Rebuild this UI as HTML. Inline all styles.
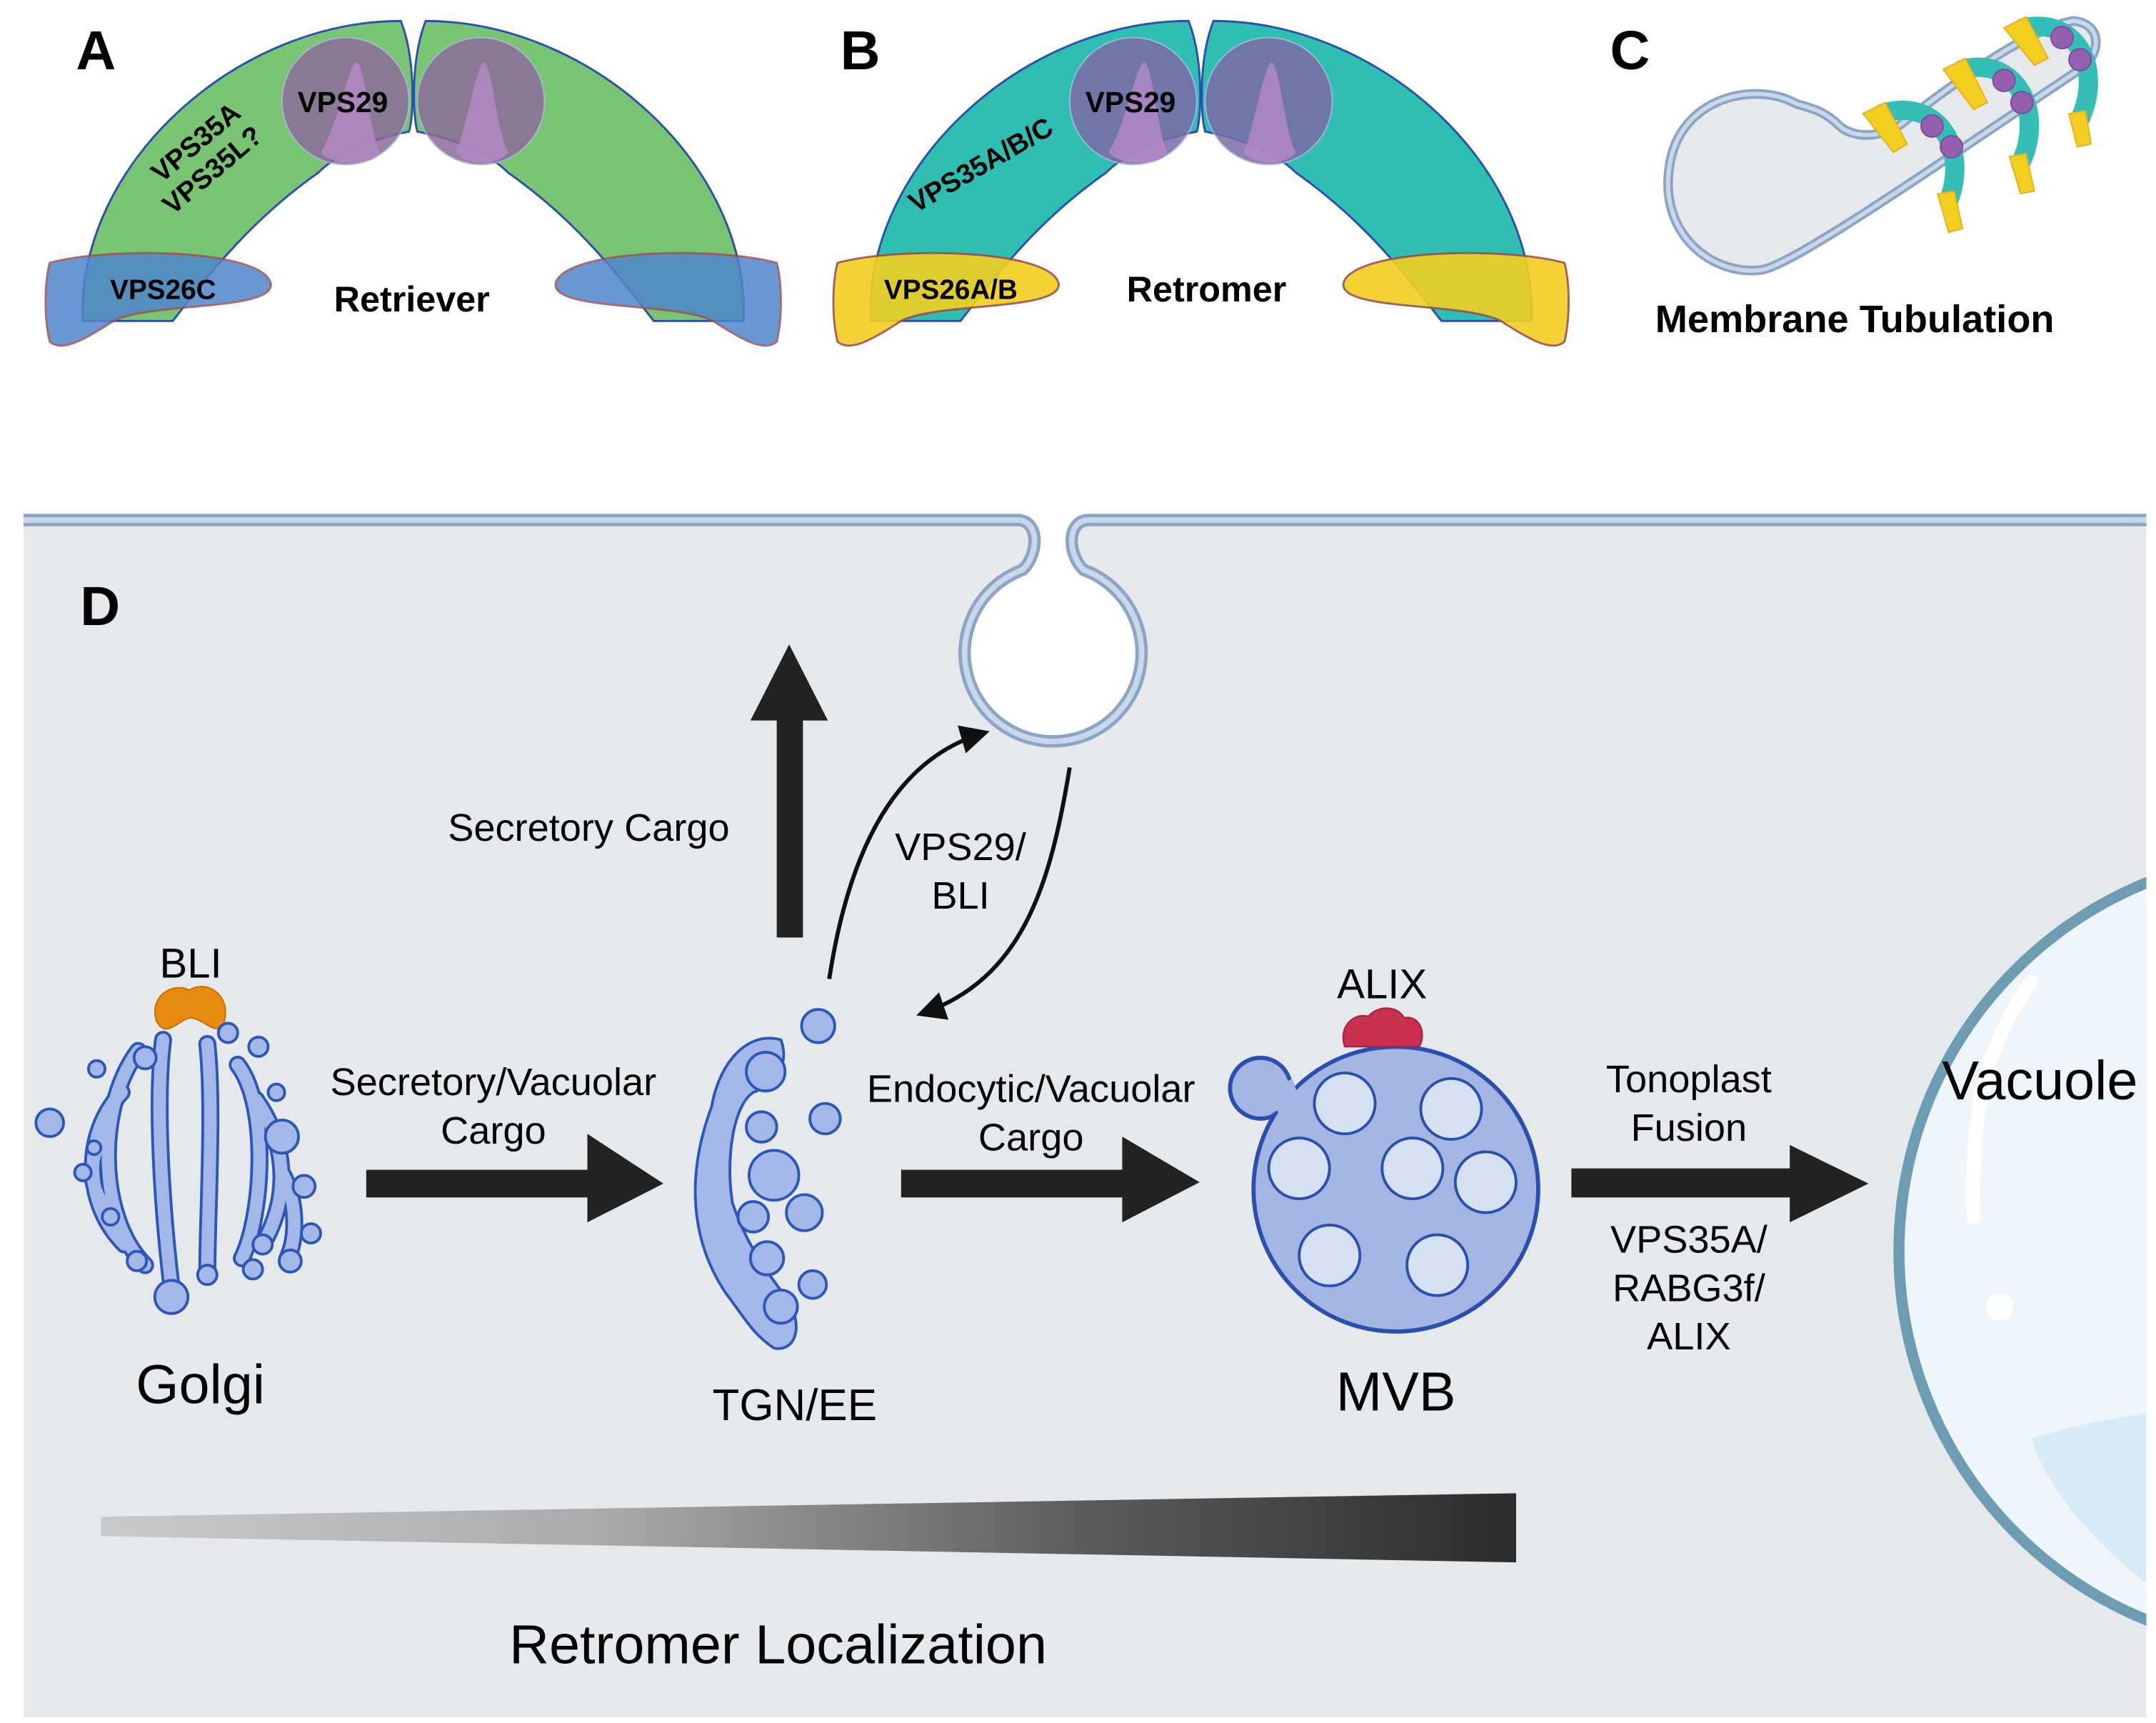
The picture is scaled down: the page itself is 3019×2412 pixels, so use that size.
<!DOCTYPE html>
<html><head><meta charset="utf-8"><style>
html,body{margin:0;padding:0;background:#fff;}
svg{display:block;}
text{font-family:"Liberation Sans",sans-serif;}
</style></head><body>
<svg width="3019" height="2412" viewBox="0 0 1560 1246" xmlns="http://www.w3.org/2000/svg">
<defs>
<linearGradient id="wg" x1="0" x2="1" y1="0" y2="0">
<stop offset="0" stop-color="#c8cacc"/><stop offset="0.35" stop-color="#a9abad"/><stop offset="0.7" stop-color="#5a5b5c"/><stop offset="1" stop-color="#2c2c2c"/>
</linearGradient>
<clipPath id="dclip"><rect x="17" y="372" width="1536" height="870"/></clipPath>
<marker id="ah" viewBox="0 0 10 10" refX="8" refY="5" markerWidth="7" markerHeight="7" orient="auto"><path d="M0,0 L10,5 L0,10 Z" fill="#111"/></marker>
</defs>
<rect width="1560" height="1246" fill="#fff"/>

<!-- Panel A -->
<text x="55" y="50" font-size="40" font-weight="bold">A</text>
<g stroke="#2a4fb0" stroke-width="1.5">
<path d="M60,232 C55,120 170,15 290,15 C300,40 300,80 296,95 C270,100 245,110 230,125 C180,160 150,200 125,232 Z" fill="#79c472"/>
<path d="M538,232 C543,120 428,15 308,15 C298,40 298,80 302,95 C328,100 353,110 368,125 C418,160 448,200 473,232 Z" fill="#79c472"/>
</g>
<circle cx="250" cy="73" r="46" fill="#8c6c98" opacity="0.85" stroke="#a8b8e0"/>
<circle cx="348" cy="73" r="46" fill="#8c6c98" opacity="0.85" stroke="#a8b8e0"/>
<path d="M232,110 C245,90 252,45 258,45 C264,45 268,100 275,110 C270,120 240,120 232,110Z" fill="#b58ac8" opacity="0.8"/>
<path d="M330,110 C338,90 345,45 350,45 C356,45 360,100 368,110 C360,120 338,120 330,110Z" fill="#b58ac8" opacity="0.8"/>
<text x="248" y="81" font-size="21" font-weight="bold" text-anchor="middle">VPS29</text>
<text transform="translate(146,108) rotate(-40)" font-size="20" font-weight="bold" text-anchor="middle">VPS35A</text>
<text transform="translate(158,128) rotate(-40)" font-size="20" font-weight="bold" text-anchor="middle">VPS35L?</text>
<g fill="#4f86cc" opacity="0.85" stroke="#9a5050" stroke-width="1.5">
<path d="M36,190 C80,178 190,180 196,205 C198,225 110,218 82,232 C62,245 45,255 36,247 C32,230 32,205 36,190 Z"/>
<path d="M562,190 C518,178 408,180 402,205 C400,225 488,218 516,232 C536,245 553,255 562,247 C566,230 566,205 562,190 Z"/>
</g>
<text x="118" y="216" font-size="20" font-weight="bold" text-anchor="middle">VPS26C</text>
<text x="298" y="225" font-size="26" font-weight="bold" text-anchor="middle">Retriever</text>

<!-- Panel B -->
<text x="608" y="50" font-size="40" font-weight="bold">B</text>
<g transform="translate(570,0)">
<g stroke="#2a4fb0" stroke-width="1.5">
<path d="M60,232 C55,120 170,15 290,15 C300,40 300,80 296,95 C270,100 245,110 230,125 C180,160 150,200 125,232 Z" fill="#2fbfb2"/>
<path d="M538,232 C543,120 428,15 308,15 C298,40 298,80 302,95 C328,100 353,110 368,125 C418,160 448,200 473,232 Z" fill="#2fbfb2"/>
</g>
<circle cx="250" cy="73" r="46" fill="#7d6aa8" opacity="0.85" stroke="#a8b8e0"/>
<circle cx="348" cy="73" r="46" fill="#7d6aa8" opacity="0.85" stroke="#a8b8e0"/>
<path d="M232,110 C245,90 252,45 258,45 C264,45 268,100 275,110 C270,120 240,120 232,110Z" fill="#b58ac8" opacity="0.8"/>
<path d="M330,110 C338,90 345,45 350,45 C356,45 360,100 368,110 C360,120 338,120 330,110Z" fill="#b58ac8" opacity="0.8"/>
<text x="248" y="81" font-size="21" font-weight="bold" text-anchor="middle">VPS29</text>
<text transform="translate(143,125) rotate(-30)" font-size="20" font-weight="bold" text-anchor="middle">VPS35A/B/C</text>
<g fill="#f2cf1f" opacity="0.9" stroke="#9a5050" stroke-width="1.5">
<path d="M36,190 C80,178 190,180 196,205 C198,225 110,218 82,232 C62,245 45,255 36,247 C32,230 32,205 36,190 Z"/>
<path d="M562,190 C518,178 408,180 402,205 C400,225 488,218 516,232 C536,245 553,255 562,247 C566,230 566,205 562,190 Z"/>
</g>
<text x="118" y="216" font-size="20" font-weight="bold" text-anchor="middle">VPS26A/B</text>
<text x="303" y="218" font-size="26" font-weight="bold" text-anchor="middle">Retromer</text>
</g>

<!-- Panel C -->
<text x="1165" y="50" font-size="40" font-weight="bold">C</text>
<path d="M1300,75 C1270,58 1215,70 1208,120 C1200,170 1240,200 1275,195 C1300,190 1400,120 1505,50 C1522,38 1520,16 1500,15 C1470,20 1420,55 1375,90 C1360,100 1340,100 1330,90 C1320,80 1310,78 1300,75 Z" fill="#e6e9ec" stroke="#8aa6c4" stroke-width="7"/>
<path d="M1300,75 C1270,58 1215,70 1208,120 C1200,170 1240,200 1275,195 C1300,190 1400,120 1505,50 C1522,38 1520,16 1500,15 C1470,20 1420,55 1375,90 C1360,100 1340,100 1330,90 C1320,80 1310,78 1300,75 Z" fill="none" stroke="#c9d8e8" stroke-width="3"/>
<g fill="none" stroke="#34bfb6" stroke-width="14" stroke-linecap="round">
<path d="M1362,82 C1400,70 1425,105 1410,145"/>
<path d="M1420,50 C1458,40 1480,80 1462,118"/>
<path d="M1464,20 C1502,12 1522,48 1505,86"/>
</g>
<g fill="#f2cf1f" stroke="#e8b020" stroke-width="1">
<path d="M1348,82 L1364,74 L1380,104 L1370,110 Z"/>
<path d="M1402,140 L1414,138 L1420,165 L1410,168 Z"/>
<path d="M1406,50 L1422,42 L1438,74 L1428,79 Z"/>
<path d="M1454,113 L1466,111 L1472,138 L1462,140 Z"/>
<path d="M1450,20 L1466,12 L1482,42 L1472,47 Z"/>
<path d="M1497,82 L1509,80 L1513,104 L1503,106 Z"/>
</g>
<g fill="#9560b0" stroke="#7a4a98">
<circle cx="1398" cy="91" r="8"/><circle cx="1412" cy="106" r="8"/>
<circle cx="1450" cy="58" r="8"/><circle cx="1463" cy="74" r="8"/>
<circle cx="1492" cy="27" r="8"/><circle cx="1505" cy="43" r="8"/>
</g>
<text x="1342" y="240" font-size="28" font-weight="bold" text-anchor="middle">Membrane Tubulation</text>

<!-- Panel D background -->
<rect x="17" y="378" width="1536" height="864" fill="#e6e9ec"/>
<path d="M17,376 H736 C752,376 752,400 740,412 A64,64 0 1 0 784,412 C772,400 772,376 788,376 H1553" fill="#fff" stroke="none"/>
<path d="M17,376 H736 C752,376 752,400 740,412 A64,64 0 1 0 784,412 C772,400 772,376 788,376 H1553" fill="none" stroke="#8aa6c4" stroke-width="9"/>
<path d="M17,376 H736 C752,376 752,400 740,412 A64,64 0 1 0 784,412 C772,400 772,376 788,376 H1553" fill="none" stroke="#c9d8e8" stroke-width="4"/>
<text x="58" y="452" font-size="40" font-weight="bold">D</text>

<!-- vacuole -->
<g clip-path="url(#dclip)">
<circle cx="1662" cy="905" r="288" fill="#eef6fb" stroke="#6d9db3" stroke-width="8"/>
<path d="M1470,1040 C1520,1025 1545,1025 1560,1020 L1560,1150 C1530,1130 1480,1080 1470,1040Z" fill="#d8eaf6"/>
<path d="M1470,710 C1440,750 1425,800 1428,880" stroke="#fff" stroke-width="10" fill="none" stroke-linecap="round"/>
<circle cx="1447" cy="945" r="10" fill="#fff"/>
</g>
<text x="1476" y="795" font-size="40" text-anchor="middle">Vacuole</text>

<!-- up arrow -->
<rect x="562" y="518" width="19" height="160" fill="#222"/>
<path d="M543,521 L599,521 L571,466 Z" fill="#222"/>
<text x="426" y="608" font-size="28" text-anchor="middle">Secretory Cargo</text>
<path d="M600,708 C615,610 650,548 712,530" fill="none" stroke="#111" stroke-width="3" marker-end="url(#ah)"/>
<path d="M774,555 C760,640 740,708 667,733" fill="none" stroke="#111" stroke-width="3" marker-end="url(#ah)"/>
<text x="695" y="622" font-size="28" text-anchor="middle">VPS29/</text>
<text x="695" y="657" font-size="28" text-anchor="middle">BLI</text>

<!-- Golgi -->
<text x="138" y="707" font-size="30" text-anchor="middle">BLI</text>
<path d="M113,738 C108,720 125,710 137,716 C150,708 168,720 162,740 C156,750 150,738 138,736 C128,738 120,752 113,738Z" fill="#e88a10" stroke="#c87000"/>
<g fill="none" stroke-linecap="round">
<g stroke="#2c57b8" stroke-width="13">
<path d="M118,752 C112,800 118,880 124,930"/>
<path d="M100,760 C70,800 70,880 105,915"/>
<path d="M88,790 C60,820 60,870 90,900"/>
<path d="M78,815 C62,840 64,860 80,878"/>
<path d="M150,755 C155,800 150,880 150,920"/>
<path d="M172,770 C195,800 190,880 175,910"/>
<path d="M185,795 C210,830 208,870 190,900"/>
<path d="M205,850 C215,870 215,895 208,910"/>
</g>
<g stroke="#a3b7e8" stroke-width="9">
<path d="M118,752 C112,800 118,880 124,930"/>
<path d="M100,760 C70,800 70,880 105,915"/>
<path d="M88,790 C60,820 60,870 90,900"/>
<path d="M78,815 C62,840 64,860 80,878"/>
<path d="M150,755 C155,800 150,880 150,920"/>
<path d="M172,770 C195,800 190,880 175,910"/>
<path d="M185,795 C210,830 208,870 190,900"/>
<path d="M205,850 C215,870 215,895 208,910"/>
</g>
</g>
<g fill="#a3b7e8" stroke="#2c57b8" stroke-width="2">
<circle cx="36" cy="812" r="10"/><circle cx="70" cy="773" r="6"/><circle cx="165" cy="747" r="7"/><circle cx="187" cy="757" r="7"/>
<circle cx="200" cy="790" r="6"/><circle cx="220" cy="858" r="8"/><circle cx="225" cy="892" r="7"/><circle cx="183" cy="918" r="7"/>
<circle cx="60" cy="848" r="6"/><circle cx="68" cy="830" r="5"/><circle cx="204" cy="822" r="12"/><circle cx="124" cy="938" r="12"/>
<circle cx="210" cy="912" r="8"/><circle cx="99" cy="912" r="7"/><circle cx="150" cy="922" r="7"/><circle cx="105" cy="765" r="8"/>
<circle cx="80" cy="880" r="6"/><circle cx="190" cy="900" r="7"/>
</g>
<text x="145" y="1015" font-size="40" text-anchor="middle">Golgi</text>

<!-- arrow 1 -->
<rect x="265" y="846" width="165" height="20" fill="#222"/>
<path d="M425,820 L425,884 L480,856 Z" fill="#222"/>
<text x="357" y="792" font-size="28" text-anchor="middle">Secretory/Vacuolar</text>
<text x="357" y="827" font-size="28" text-anchor="middle">Cargo</text>

<!-- TGN -->
<path d="M565,752 C540,745 520,770 515,800 C500,840 495,890 525,935 C540,955 545,965 560,975 C575,978 582,960 570,940 C555,920 540,900 530,870 C525,840 530,800 545,790 C560,785 572,770 565,752 Z" fill="#a3b7e8" stroke="#2c57b8" stroke-width="2"/>
<g fill="#a3b7e8" stroke="#2c57b8" stroke-width="2">
<circle cx="554" cy="775" r="14"/><circle cx="551" cy="815" r="11"/><circle cx="560" cy="850" r="18"/><circle cx="545" cy="880" r="11"/>
<circle cx="555" cy="910" r="12"/><circle cx="565" cy="945" r="12"/><circle cx="592" cy="742" r="12"/><circle cx="597" cy="809" r="11"/>
<circle cx="582" cy="877" r="13"/><circle cx="588" cy="929" r="10"/>
</g>
<text x="575" y="1027" font-size="32" text-anchor="middle">TGN/EE</text>

<!-- arrow 2 -->
<rect x="652" y="846" width="165" height="20" fill="#222"/>
<path d="M812,822 L812,884 L868,855 Z" fill="#222"/>
<text x="746" y="797" font-size="28" text-anchor="middle">Endocytic/Vacuolar</text>
<text x="746" y="832" font-size="28" text-anchor="middle">Cargo</text>

<!-- MVB -->
<circle cx="912" cy="787" r="22" fill="#a3b5e0" stroke="#2a4fb0" stroke-width="3"/>
<circle cx="1010" cy="860" r="103" fill="#a3b5e0" stroke="#2a4fb0" stroke-width="3"/>
<circle cx="912" cy="787" r="20" fill="#a3b5e0"/>
<path d="M918,790 L935,780 L942,800 L925,805 Z" fill="#a3b5e0"/>
<g fill="#d5e0f0" stroke="#2a4fb0" stroke-width="2">
<circle cx="973" cy="798" r="22"/><circle cx="1050" cy="802" r="22"/><circle cx="940" cy="845" r="22"/><circle cx="1022" cy="845" r="22"/>
<circle cx="1075" cy="855" r="22"/><circle cx="962" cy="908" r="22"/><circle cx="1040" cy="915" r="22"/>
</g>
<path d="M973,757 C968,742 980,732 990,735 C998,726 1012,728 1016,736 C1028,734 1032,748 1027,757 Z" fill="#c8304e" stroke="#a02040"/>
<text x="1000" y="722" font-size="30" text-anchor="middle">ALIX</text>
<text x="1010" y="1020" font-size="40" text-anchor="middle">MVB</text>

<!-- arrow 3 -->
<rect x="1137" y="845" width="163" height="21" fill="#222"/>
<path d="M1295,828 L1295,884 L1352,856 Z" fill="#222"/>
<text x="1222" y="790" font-size="28" text-anchor="middle">Tonoplast</text>
<text x="1222" y="825" font-size="28" text-anchor="middle">Fusion</text>
<text x="1222" y="906" font-size="28" text-anchor="middle">VPS35A/</text>
<text x="1222" y="941" font-size="28" text-anchor="middle">RABG3f/</text>
<text x="1222" y="976" font-size="28" text-anchor="middle">ALIX</text>

<!-- gradient wedge -->
<path d="M73,1097 L1097,1080 L1097,1130 L73,1111 Z" fill="url(#wg)"/>
<text x="563" y="1203" font-size="40" text-anchor="middle">Retromer Localization</text>
</svg>
</body></html>
